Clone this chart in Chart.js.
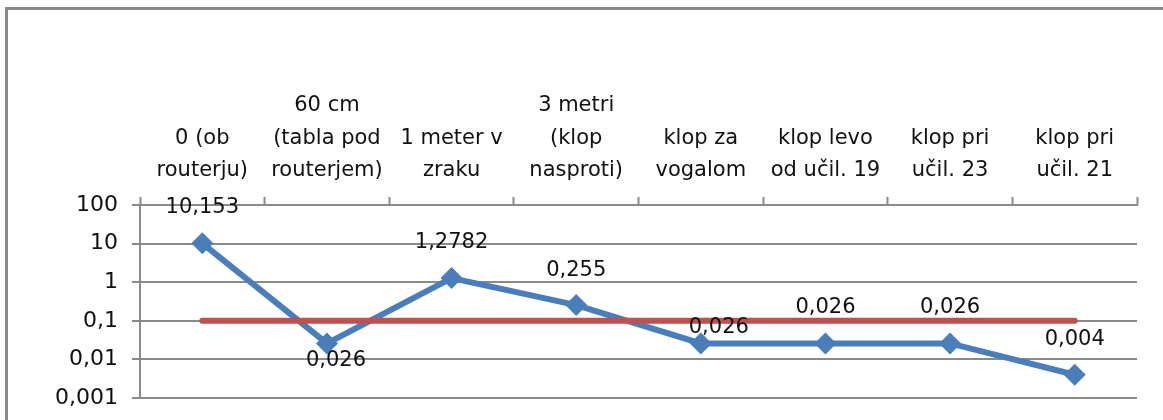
<!DOCTYPE html>
<html>
<head>
<meta charset="utf-8">
<script src="https://cdn.jsdelivr.net/npm/chart.js@4/dist/chart.umd.min.js"></script>
<style>
    html, body { margin: 0; padding: 0; background: #fff; }
    #wrap { position: relative; width: 1163px; height: 420px; overflow: hidden; }
    #frame {
        position: absolute; left: 5px; top: 7px; width: 1200px; height: 460px;
        border-left: 3px solid #8a8a8a; border-top: 3px solid #8a8a8a;
        box-sizing: border-box;
    }
    #chart { position: absolute; left: 0; top: 0; }
</style>
</head>
<body>
<div id="wrap">
    <div id="frame"></div>
    <canvas id="chart" width="1163" height="420"></canvas>
</div>
<script>
// Measurement points (category labels, wrapped as in the original)
const categories = [
    ['0 (ob', 'routerju)'],
    ['60 cm', '(tabla pod', 'routerjem)'],
    ['1 meter v', 'zraku'],
    ['3 metri', '(klop', 'nasproti)'],
    ['klop za', 'vogalom'],
    ['klop levo', 'od učil. 19'],
    ['klop pri', 'učil. 23'],
    ['klop pri', 'učil. 21']
];

// Measured values and the 0,1 limit line
const measured = [10.153, 0.026, 1.2782, 0.255, 0.026, 0.026, 0.026, 0.004];
const limit = [0.1, 0.1, 0.1, 0.1, 0.1, 0.1, 0.1, 0.1];

// Y axis (log) ticks
const yTicks = [0.001, 0.01, 0.1, 1, 10, 100];
const yTickLabels = ['0,001', '0,01', '0,1', '1', '10', '100'];

// Data label text and per-label nudges (the original labels were moved by hand)
const valueLabels = ['10,153', '0,026', '1,2782', '0,255', '0,026', '0,026', '0,026', '0,004'];
const labelDx = [0, 9, 0, 0, 18, 0, 0, 0];
const labelDy = [-36, 17, -36, -35, -16, -36, -36, -35];

const FONT = '"DejaVu Sans", sans-serif';
const GRID = '#8a8a8a';

// Draw the value labels next to the blue markers
const valueLabelPlugin = {
    id: 'valueLabels',
    afterDatasetsDraw(chart) {
        const meta = chart.getDatasetMeta(0);
        const ctx = chart.ctx;
        ctx.save();
        ctx.font = `21px ${FONT}`;
        ctx.fillStyle = '#111';
        ctx.textAlign = 'center';
        ctx.textBaseline = 'middle';
        meta.data.forEach((pt, i) => {
            ctx.fillText(valueLabels[i], pt.x + labelDx[i], pt.y + labelDy[i]);
        });
        ctx.restore();
    }
};

new Chart(document.getElementById('chart'), {
    type: 'line',
    data: {
        labels: categories,
        datasets: [
            {
                label: 'meritev',
                data: measured,
                borderColor: '#4a7ebb',
                backgroundColor: '#4a7ebb',
                borderWidth: 6,
                pointStyle: 'rectRot',
                pointRadius: 11,
                pointBorderWidth: 0,
                tension: 0,
                order: 1
            },
            {
                label: 'meja',
                data: limit,
                borderColor: '#c0504d',
                borderWidth: 6,
                pointRadius: 0,
                borderCapStyle: 'round',
                tension: 0,
                order: 0
            }
        ]
    },
    options: {
        responsive: false,
        animation: false,
        layout: { padding: { top: 0, left: 0, right: 26, bottom: 22 } },
        plugins: {
            legend: { display: false },
            tooltip: { enabled: false }
        },
        scales: {
            x: {
                position: 'top',
                offset: true,
                grid: {
                    offset: true,
                    drawOnChartArea: false,
                    drawTicks: true,
                    tickLength: 8,
                    tickWidth: 2,
                    tickColor: GRID
                },
                border: { display: true, color: GRID, width: 2 },
                ticks: {
                    color: '#111',
                    font: { family: FONT, size: 21, lineHeight: 1.55 },
                    padding: 10,
                    maxRotation: 0,
                    autoSkip: false
                },
                afterFit(scale) { scale.height = 205; }
            },
            y: {
                type: 'logarithmic',
                min: 0.001,
                max: 100,
                afterBuildTicks(scale) {
                    scale.ticks = yTicks.map(v => ({ value: v }));
                },
                grid: {
                    color: GRID,
                    lineWidth: 2,
                    tickLength: 8,
                    drawTicks: true
                },
                border: { display: true, color: GRID, width: 2 },
                ticks: {
                    color: '#111',
                    font: { family: FONT, size: 22 },
                    padding: 14,
                    callback: (v) => {
                        const i = yTicks.indexOf(v);
                        return i >= 0 ? yTickLabels[i] : '';
                    }
                },
                afterFit(scale) {
                    scale.width = 140;
                    scale.paddingTop = 0;
                    scale.paddingBottom = 0;
                }
            }
        }
    },
    plugins: [valueLabelPlugin]
});
</script>
</body>
</html>
